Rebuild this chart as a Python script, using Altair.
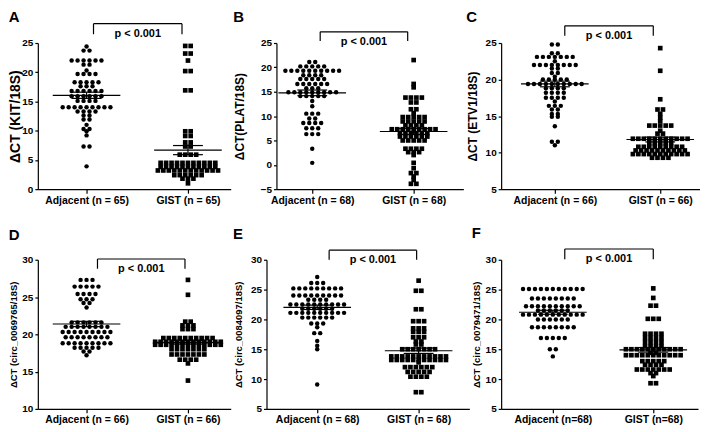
import altair as alt
import pandas as pd

FONT = "Liberation Sans"

# ---------------- data (ΔCT values, one entry per dot) ----------------
A_adj = [24.4, 23.7, 23.7,
         22.0, 22.0, 22.0, 22.0, 22.0, 22.0,
         21.3, 21.3, 20.3,
         19.7, 19.7, 19.7, 19.7,
         18.3, 18.3, 18.3, 18.3, 18.3,
         17.6, 17.6, 17.6,
         16.8, 16.8, 16.8, 16.8, 16.8, 16.8,
         15.9, 15.9, 15.9, 15.9, 15.9, 15.9,
         15.1, 15.1, 15.1, 15.1,
         14.0, 14.0, 14.0, 14.0, 14.0, 14.0, 14.0, 14.0, 14.0,
         13.3, 13.3, 13.3, 13.3, 12.6, 12.6, 11.9, 11.9, 11.0, 10.3, 10.3, 9.9, 9.2,
         7.3, 7.3, 3.9]
A_gist = [24.5, 24.5, 23.2, 23.2, 22.0, 20.2, 20.2, 16.9, 16.9,
          9.9, 9.9, 9.1, 9.1, 8.0, 8.0, 7.3, 7.3,
          5.9, 5.9, 5.9, 5.9,
          4.5, 4.5, 4.5, 4.5, 4.5, 4.5, 4.5, 4.5, 4.5, 4.5, 4.5,
          3.8, 3.8, 3.8, 3.8, 3.8, 3.8, 3.8, 3.8, 3.8, 3.8, 3.8,
          3.2, 3.2, 3.2, 3.2, 3.2, 3.2, 3.2, 3.2, 3.2, 3.2, 3.2, 3.2,
          2.4, 2.4, 2.4, 2.4, 2.4, 2.4, 1.8, 1.8, 1.8, 1.0]

B_adj = [21.1, 21.1,
         20.2, 20.2, 20.2, 20.2, 20.2,
         19.3, 19.3, 19.3, 19.3, 19.3, 19.3, 19.3, 19.3, 19.3, 19.3,
         18.4, 18.4, 18.4, 18.4,
         17.6, 17.6, 17.6, 17.6, 17.6,
         16.6, 16.6, 16.6, 16.6, 16.6, 16.6,
         15.7, 15.7, 15.7,
         14.9, 14.9, 14.9, 14.9, 14.9, 14.9, 14.9, 14.9, 14.9,
         14.1, 14.1, 14.1, 14.1, 14.1,
         13.1, 12.0, 10.5, 10.5, 10.5, 9.5, 9.5,
         8.6, 8.6, 8.6, 8.6, 7.5, 7.5, 7.5, 6.3, 6.3, 6.3, 3.3, 0.4]
B_gist = [21.5, 16.6, 15.9, 13.8, 13.8, 13.8, 13.8, 12.8, 12.8, 11.4, 11.4, 10.6,
          9.8, 9.8, 9.8, 9.8, 9.8, 8.9, 8.9, 8.9, 8.9, 8.9, 8.1, 8.1, 8.1, 8.1,
          7.3, 7.3, 7.3, 7.3, 7.3, 7.3, 7.3, 7.3, 7.3,
          6.5, 6.5, 6.5, 6.5, 6.5, 6.5, 5.8, 5.8, 5.8, 5.8, 5.8, 5.8,
          5.0, 5.0, 5.0, 5.0, 5.0, 3.3, 3.3, 3.3, 3.3, 2.6, 2.6, 2.6, 2.0,
          0.4, -0.7, -1.7, -1.7, -2.4, -3.1, -3.9, -3.9]

C_adj = [24.8, 24.8, 23.6, 23.6,
         23.1, 23.1, 23.1, 23.1, 23.1, 23.1, 23.1, 22.5,
         22.0, 22.0, 22.0, 22.0, 22.0, 22.0, 22.0, 22.0,
         21.5, 21.5, 20.9, 20.9, 20.4,
         20.0, 20.0, 20.0, 20.0, 20.0,
         19.4, 19.4, 19.4, 19.4, 19.4, 19.4, 19.4, 19.4, 19.4, 19.4,
         18.8, 18.8, 18.8, 18.8, 18.2, 18.2, 18.2, 18.2,
         17.5, 17.5, 17.5, 17.5, 17.0, 16.4, 16.4, 16.4, 15.9, 15.9,
         15.3, 15.3, 14.9, 14.9, 13.6, 11.5, 11.5, 11.0]
C_gist = [24.3, 21.2, 17.3, 15.9, 15.9, 15.3, 14.8, 14.3,
          13.7, 13.7, 13.7, 13.7, 13.7, 13.0, 12.6, 12.6,
          11.9, 11.9, 11.9, 11.9, 11.9, 11.9, 11.9, 11.9, 11.9, 11.9, 11.9,
          11.3, 11.3, 11.3, 11.3, 11.3,
          10.8, 10.8, 10.8, 10.8, 10.8, 10.8, 10.8, 10.8, 10.8,
          10.3, 10.3, 10.3, 10.3, 10.3, 10.3, 10.3, 10.3, 10.3, 10.3,
          9.8, 9.8, 9.8, 9.8, 9.8, 9.8, 9.8, 9.8, 9.8, 9.8, 9.8,
          9.3, 9.3, 9.3, 9.3]

D_adj = [27.3, 27.3, 27.3, 26.4, 26.4, 26.4, 26.4, 26.4,
         25.4, 25.4, 25.4, 25.4, 24.7, 24.7, 24.7, 24.2, 24.2, 23.6,
         21.6, 21.6, 21.6, 21.6, 21.6, 21.6,
         21.0, 21.0, 21.0, 21.0, 21.0, 21.0, 21.0, 21.0,
         20.3, 20.3, 20.3, 20.3, 20.3, 20.3, 20.3, 20.3, 20.3,
         19.6, 19.6, 19.6, 19.6, 19.6, 19.6, 19.6, 19.6,
         18.8, 18.8, 18.8, 18.8, 18.8, 18.8, 18.8, 18.8, 18.8,
         18.2, 18.2, 18.2, 18.2, 18.2, 17.7, 17.7, 17.2]
D_gist = [27.3, 25.3, 21.7, 21.7, 21.2, 21.2, 21.2, 20.7, 20.7, 20.7,
          19.5, 19.5, 19.5, 19.5, 19.5, 19.5, 19.5, 19.5, 19.5, 19.5,
          19.0, 19.0, 19.0, 19.0, 19.0, 19.0, 19.0, 19.0, 19.0, 19.0, 19.0, 19.0, 19.0,
          18.6, 18.6, 18.6, 18.6, 18.6, 18.6, 18.6, 18.6, 18.6, 18.6, 18.6, 18.6, 18.6,
          18.0, 18.0, 18.0, 18.0, 18.0, 18.0, 18.0,
          17.3, 17.3, 17.3, 17.3, 17.3, 17.3, 17.3,
          16.6, 16.6, 16.6, 16.6, 16.1, 13.8]

E_adj = [27.1, 26.1, 26.1, 26.1,
         25.2, 25.2, 25.2, 25.2, 25.2, 25.2, 25.2, 25.2, 25.2,
         24.0, 24.0, 24.0, 24.0, 24.0, 24.0, 24.0, 24.0, 24.0,
         23.3, 23.3, 23.3, 23.3,
         22.5, 22.5, 22.5, 22.5, 22.5, 22.5, 22.5, 22.5, 22.5, 22.5,
         21.8, 21.8, 21.8, 21.8, 21.8, 21.8,
         21.1, 21.1, 21.1, 21.1, 21.1, 21.1, 21.1, 21.1, 21.1, 21.1,
         20.3, 20.3, 20.3, 20.3, 20.3, 20.3,
         19.3, 19.3, 19.3, 18.7, 17.7, 17.7, 16.4, 15.6, 15.0, 9.1]
E_gist = [26.5, 24.8, 24.8, 21.7, 21.7, 19.7, 19.7, 19.7, 18.5, 18.5, 18.5,
          17.9, 17.9, 17.9, 17.0, 17.0, 17.0, 16.3, 16.3, 15.8, 15.8,
          15.0, 15.0, 15.0, 15.0, 15.0, 15.0, 15.0,
          13.8, 13.8, 13.8, 13.8, 13.8, 13.8, 13.8, 13.8, 13.8, 13.8, 13.8,
          13.2, 13.2, 13.2, 13.2, 13.2, 13.2, 13.2, 13.2, 13.2, 13.2, 13.2,
          12.8, 12.0, 12.0, 12.0, 12.0, 12.0, 12.0,
          11.2, 11.2, 11.2, 11.2, 11.2, 10.4, 10.4, 10.4, 10.4, 7.8, 7.8]

F_adj = [25.1, 25.1, 25.1, 25.1, 25.1, 25.1, 25.1, 25.1, 25.1, 25.1, 25.1,
         23.5, 23.5, 23.5, 23.5, 23.5, 23.5, 23.5, 23.5,
         22.2, 22.2, 22.2, 22.2, 22.2, 22.2, 22.2, 22.2, 22.2, 22.2,
         21.5, 21.5, 21.5, 21.5, 21.5, 21.5,
         20.8, 20.8, 20.8, 20.8, 20.8, 20.8, 20.8, 20.8, 20.8, 20.8, 20.8,
         20.0, 20.0, 20.0, 20.0, 20.0, 20.0,
         18.7, 18.7, 18.7, 18.7, 18.7, 18.7, 18.7, 18.7,
         16.9, 16.9, 16.9, 16.9, 16.9, 15.0, 15.0, 13.8]
F_gist = [25.2, 23.6, 22.3, 22.3, 20.1, 20.1, 20.1,
          17.6, 17.6, 17.6, 17.6, 16.9, 16.9, 16.9, 16.9, 16.2, 16.2, 16.2, 16.2,
          15.5, 15.5, 15.5, 15.5,
          15.0, 15.0, 15.0, 15.0, 15.0, 15.0, 15.0, 15.0, 15.0, 15.0, 15.0,
          14.4, 14.4,
          14.0, 14.0, 14.0, 14.0, 14.0, 14.0, 14.0, 14.0, 14.0, 14.0, 14.0,
          13.0, 13.0, 13.0, 13.0, 13.0, 12.4, 12.4, 12.4, 12.4,
          11.6, 11.6, 11.6, 11.6, 11.6, 11.6, 11.6, 11.0, 11.0, 10.5, 9.3, 9.3]

P_LABEL = "p < 0.001"

panels = [
    dict(letter="A", ytitle="ΔCT (KIT/18S)", adj=A_adj, gist=A_gist, ydom=[0, 25],
         xlab=["Adjacent (n = 65)", "GIST (n = 65)"], br=[28.3, 26.5]),
    dict(letter="B", ytitle="ΔCT(PLAT/18S)", adj=B_adj, gist=B_gist, ydom=[-5, 25],
         xlab=["Adjacent (n = 68)", "GIST (n = 68)"], br=[27.3, 25.4]),
    dict(letter="C", ytitle="ΔCT (ETV1/18S)", adj=C_adj, gist=C_gist, ydom=[5, 25],
         xlab=["Adjacent (n = 66)", "GIST (n = 66)"], br=[27.35, 26.0]),
    dict(letter="D", ytitle="ΔCT (circ_0069765/18S)", adj=D_adj, gist=D_gist, ydom=[10, 30],
         xlab=["Adjacent (n = 66)", "GIST (n = 66)"], br=[30.1, 28.8]),
    dict(letter="E", ytitle="ΔCT (circ_0084097/18S)", adj=E_adj, gist=E_gist, ydom=[5, 30],
         xlab=["Adjacent (n = 68)", "GIST (n = 68)"], br=[31.6, 30.0]),
    dict(letter="F", ytitle="ΔCT (circ_0079471/18S)", adj=F_adj, gist=F_gist, ydom=[5, 30],
         xlab=["Adjacent (n=68)", "GIST (n=68)"], br=[31.8, 30.1]),
]

# ---------------- layout / style (pixels) ----------------
layout = {
    "A": dict(W=194, H=147, cx=(49, 151), brx=(7, -6), tfs=14, tpad=-1, toff=-2),
    "B": dict(W=188, H=147, cx=(36, 138), brx=(8, -6), tfs=12, tpad=14, toff=6),
    "C": dict(W=200, H=147, cx=(54, 160), brx=(10, -7), tfs=12, tpad=6, toff=0),
    "D": dict(W=194, H=150, cx=(49, 151), brx=(11, -3), tfs=9.5, tpad=3, toff=12),
    "E": dict(W=204, H=150, cx=(51, 153), brx=(12, -2), tfs=9.5, tpad=7.5, toff=8),
    "F": dict(W=198, H=150, cx=(52, 153), brx=(12, 0), tfs=9.5, tpad=3.5, toff=7),
}
RULE = dict(color="black", strokeWidth=1.2)


def make_panel(p, L):
    cx1, cx2 = L["cx"]
    W, H = L["W"], L["H"]
    df = pd.DataFrame({
        "group": ["Adjacent"] * len(p["adj"]) + ["GIST"] * len(p["gist"]),
        "value": p["adj"] + p["gist"],
    })
    xs = alt.Scale(domain=[0, W], nice=False, zero=False)
    ys = alt.Scale(domain=p["ydom"], nice=False, zero=False)
    mid = (cx1 + cx2) / 2
    xax = alt.Axis(values=[cx1, cx2],
                   labelExpr=f"datum.value < {mid} ? '{p['xlab'][0]}' : '{p['xlab'][1]}'",
                   grid=False, tickSize=4, labelPadding=2, labelFontSize=10.5,
                   labelFontWeight="bold", labelFlush=False)
    yax = alt.Axis(values=list(range(p["ydom"][0], p["ydom"][1] + 1, 5)), grid=False,
                   tickSize=3, labelPadding=2, labelFontSize=10, labelFontWeight="bold",
                   titleFontSize=L["tfs"], titleFontWeight="bold", titlePadding=L["tpad"])

    def X(f):
        return alt.X(f, type="quantitative", scale=xs, axis=xax, title=None)

    def Y(f):
        return alt.Y(f, type="quantitative", scale=ys, axis=yax, title=p["ytitle"])

    def swarm(group, cx, sp):
        return (alt.Chart(df)
                .transform_filter(alt.datum.group == group)
                .transform_window(rk="row_number()", groupby=["value"])
                .transform_joinaggregate(nrow="count()", groupby=["value"])
                .transform_calculate(xp=f"{cx} + (datum.rk - (datum.nrow + 1) / 2) * {sp}")
                .encode(x=X("xp"), y=Y("value")))

    adj = swarm("Adjacent", cx1, 6).mark_circle(size=20, color="black", opacity=1)
    gist = swarm("GIST", cx2, 5.5).mark_square(size=22, color="black", opacity=1)

    stats = (alt.Chart(df)
             .transform_aggregate(m="mean(value)", se="stderr(value)", groupby=["group"])
             .transform_calculate(cx=f"datum.group == 'Adjacent' ? {cx1} : {cx2}")
             .transform_calculate(ml="datum.cx - 34", mr="datum.cx + 34",
                                  cl="datum.cx - 15", cr="datum.cx + 15",
                                  hi="datum.m + datum.se", lo="datum.m - datum.se"))
    mean_l = stats.mark_rule(**RULE).encode(x=X("ml"), x2="mr", y=Y("m"))
    hi_l = stats.mark_rule(**RULE).encode(x=X("cl"), x2="cr", y=Y("hi"))
    lo_l = stats.mark_rule(**RULE).encode(x=X("cl"), x2="cr", y=Y("lo"))
    vert = stats.mark_rule(**RULE).encode(x=X("cx"), y=Y("lo"), y2="hi")

    xl, xr = cx1 + L["brx"][0], cx2 + L["brx"][1]
    top, bot = p["br"]
    seg = pd.DataFrame({"bx": [xl, xl, xr], "bx2": [xl, xr, xr],
                        "by": [bot, top, top], "by2": [top, top, bot]})
    bracket = alt.Chart(seg).mark_rule(**RULE).encode(x=X("bx"), x2="bx2", y=Y("by"), y2="by2")
    txt = (alt.Chart(pd.DataFrame({"tx": [(xl + xr) / 2], "ty": [top]}))
           .mark_text(text=P_LABEL, baseline="top", dy=4, fontSize=11, fontWeight="bold",
                      font=FONT, color="black")
           .encode(x=X("tx"), y=Y("ty")))

    return alt.layer(adj, gist, mean_l, hi_l, lo_l, vert, bracket, txt).properties(
        width=W, height=H,
        title=alt.TitleParams(p["letter"], anchor="start", frame="bounds", fontSize=15,
                              fontWeight="bold", font=FONT, offset=L["toff"], color="black"))


charts = [make_panel(p, layout[p["letter"]]) for p in panels]

chart = (alt.vconcat(alt.hconcat(*charts[:3], spacing=2),
                     alt.hconcat(*charts[3:], spacing=2),
                     spacing=20, padding=0)
         .configure(font=FONT)
         .configure_view(stroke=None)
         .configure_axis(domainColor="black", tickColor="black", labelColor="black",
                         titleColor="black", labelFont=FONT, titleFont=FONT,
                         domainWidth=1.2, tickWidth=1.2))

chart.save("out.html", embed_options={"renderer": "svg", "actions": False})
